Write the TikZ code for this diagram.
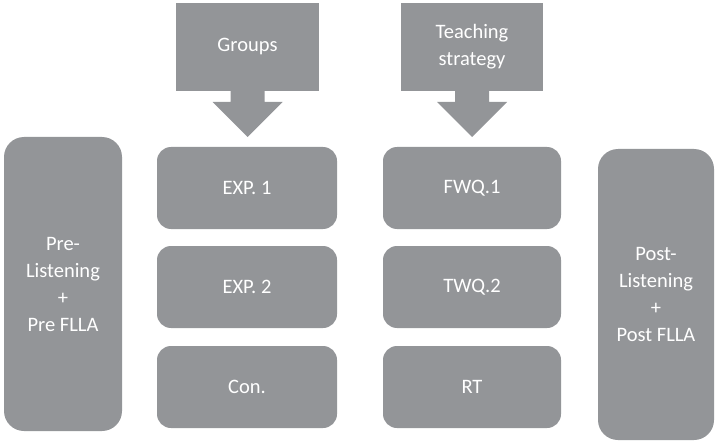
\documentclass[tikz,border=0pt]{standalone}
\usepackage{fontspec}
\setmainfont{Carlito}
\definecolor{boxgray}{HTML}{939598}

\begin{document}
\begin{tikzpicture}[x=1pt, y=-1pt,
  every node/.style={fill=boxgray, text=white, inner sep=0pt, outer sep=0pt, align=center,
    font=\fontsize{20.5}{27}\selectfont},
  stepbox/.style={minimum width=180pt, minimum height=82pt, rounded corners=14pt},
  tallbox/.style={minimum width=118pt, minimum height=294pt, rounded corners=20pt},
  headbox/.style={minimum width=143pt, minimum height=88pt}]
\useasboundingbox (0,0) rectangle (715,441);

% columns of steps
\node[tallbox] (pre) at (63,284) {Pre-\\Listening\\+\\Pre FLLA};
\node[stepbox] (exp1) at (247,188) {EXP. 1};
\node[stepbox] (exp2) at (247,287) {EXP. 2};
\node[stepbox] (con) at (247,387) {Con.};
\node[stepbox, minimum width=178pt] (fwq) at (472,188) {FWQ.1};
\node[stepbox, minimum width=178pt] (twq) at (472,287) {TWQ.2};
\node[stepbox, minimum width=178pt] (rt) at (472,387) {RT};
\node[tallbox, minimum width=116pt, minimum height=291pt] (post) at (656,294.5) {Post-\\Listening\\+\\Post FLLA};

% callouts
\node[headbox] (grp) at (247.5,47) {Groups};
\node[headbox, minimum width=142pt] (teach) at (472,47) {Teaching\\strategy};
\coordinate (grptip) at (247.5,137);
\coordinate (teachtip) at (472,137);
\fill[boxgray] ([xshift=-17pt]grp.south) -- ++(0,11) -- ++(-18,0) -- (grptip) -- ++(35,-35) -- ++(-18,0) -- ([xshift=17pt]grp.south) -- cycle;
\fill[boxgray] ([xshift=-17pt]teach.south) -- ++(0,11) -- ++(-18,0) -- (teachtip) -- ++(35,-35) -- ++(-18,0) -- ([xshift=17pt]teach.south) -- cycle;
\end{tikzpicture}
\end{document}
